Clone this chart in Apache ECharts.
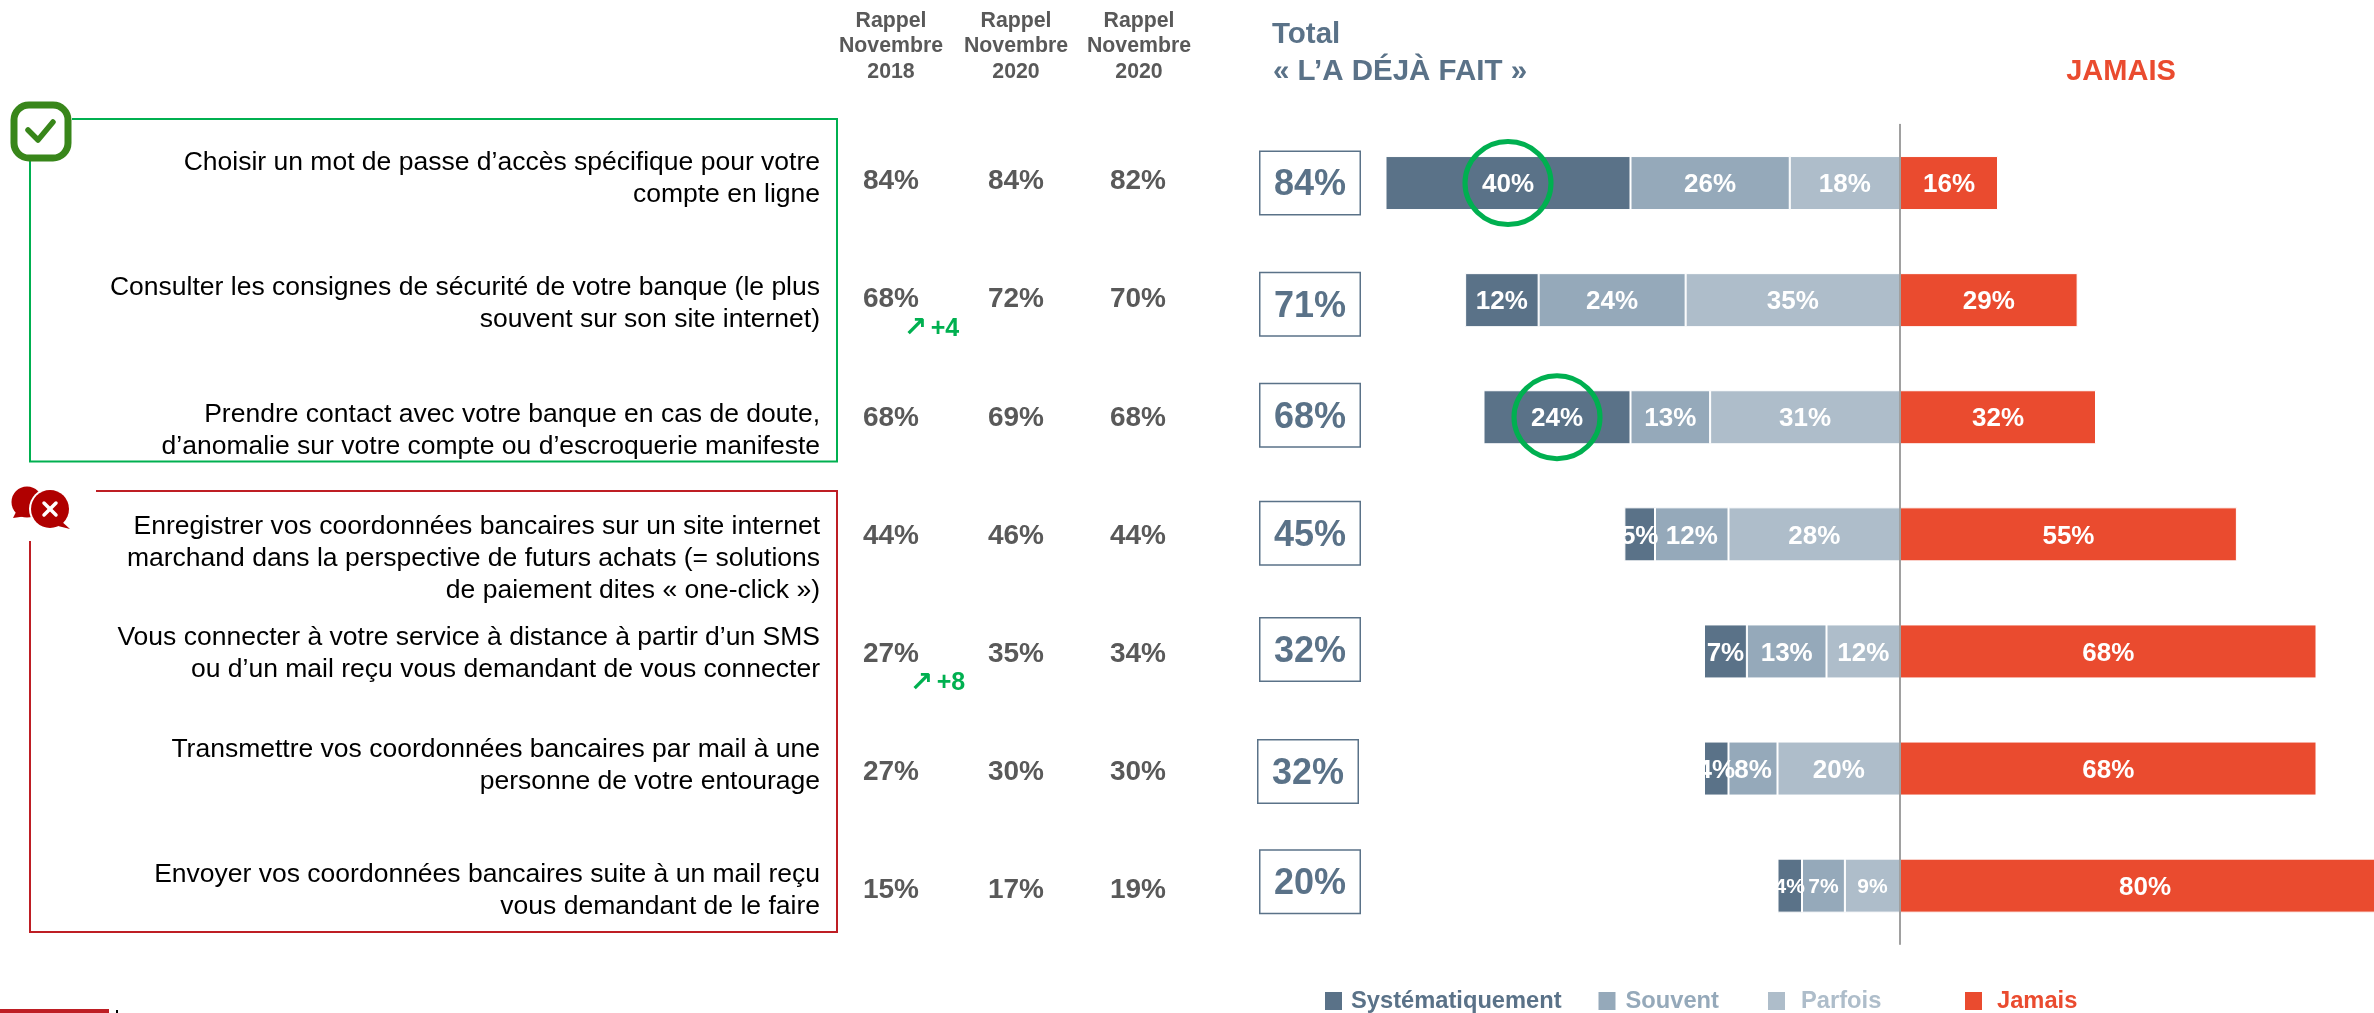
<!DOCTYPE html>
<html><head><meta charset="utf-8">
<style>html,body{margin:0;padding:0;background:#fff;overflow:hidden}#c{width:2374px;height:1013px}</style>
<script src="https://cdn.jsdelivr.net/npm/echarts@6/dist/echarts.min.js"></script>
</head><body><div id="c"></div>
<script>
const categories = [
  "Choisir un mot de passe d’accès spécifique pour votre\ncompte en ligne",
  "Consulter les consignes de sécurité de votre banque (le plus\nsouvent sur son site internet)",
  "Prendre contact avec votre banque en cas de doute,\nd’anomalie sur votre compte ou d’escroquerie manifeste",
  "Enregistrer vos coordonnées bancaires sur un site internet\nmarchand dans la perspective de futurs achats (= solutions\nde paiement dites « one-click »)",
  "Vous connecter à votre service à distance à partir d’un SMS\nou d’un mail reçu vous demandant de vous connecter",
  "Transmettre vos coordonnées bancaires par mail à une\npersonne de votre entourage",
  "Envoyer vos coordonnées bancaires suite à un mail reçu\nvous demandant de le faire"
];
const systematiquement = [40, 12, 24, 5, 7, 4, 4];
const souvent = [26, 24, 13, 12, 13, 8, 7];
const parfois = [18, 35, 31, 28, 12, 20, 9];
const jamais = [16, 29, 32, 55, 68, 68, 80];
const totals = [84, 71, 68, 45, 32, 32, 20];
const rappel2018 = [84, 68, 68, 44, 27, 27, 15];
const rappel2020a = [84, 72, 69, 46, 35, 30, 17];
const rappel2020b = [82, 70, 68, 44, 34, 30, 19];
const evolutions = {1: "+4", 4: "+8"};
const circledRows = [0, 2];

// layout
const FONT = '"Liberation Sans", Arial, sans-serif';
const C_SYS = '#5A7288', C_SOU = '#95A9BA', C_PAR = '#AEBDCA', C_JAM = '#EA4B2F';
const GREEN = '#00B050', RED = '#BE1E24', GREY = '#595959';
const AX0 = 1900, PX = 6.125, GTOP = 124.5, GH = 819.7;
const GLEFT = AX0 - 90 * PX, GWIDTH = 2374 - GLEFT;
const labelDy = [-4, 4, 13, 24, 2.5, -2.5, 5.5];
const rappelDy = [-1.5, -0.5, 1.5, 2, 3, 4, 5];
const boxDy = [0, 4, -2, -1, -2, 3, -4];
const boxDx = [0, 0, 0, 0, 0, -2, 0];
const evoPos = {1: [931.5, 29], 4: [937.5, 32]};
const idx = categories.map((_, i) => i);

function barData(arr, sign, small) {
  return arr.map((v, i) => (small && i === 6)
    ? {value: sign * v, label: {fontSize: 21}}
    : sign * v);
}
function barSeries(name, color, arr, sign, small) {
  return {
    name, type: 'bar', stack: 'all', barWidth: 54, color, clip: false,
    data: barData(arr, sign, small),
    itemStyle: {color, borderColor: '#fff', borderWidth: 1},
    label: {show: true, position: 'inside', color: '#fff', fontFamily: FONT, fontWeight: 'bold', fontSize: 26, offset: [0, 2],
      formatter: p => Math.abs(p.value) + '%'},
    z: 3
  };
}
function textCol(name, x, arr) {
  return {
    name, type: 'scatter', xAxisIndex: 1, yAxisIndex: 1, symbolSize: 0, silent: true, itemStyle: {opacity: 1},
    data: arr.map((v, i) => ({value: [x, i], label: {offset: [0, rappelDy[i]]}})),
    label: {show: true, position: 'inside', color: GREY, fontFamily: FONT, fontWeight: 'bold', fontSize: 28,
      formatter: p => arr[p.dataIndex] + '%'}
  };
}
function legendAt(name, left, color, pad) {
  return {
    show: true, data: [{name, icon: 'rect'}], left, top: 989, itemWidth: 19, itemHeight: 20, padding: 0,
    selectedMode: false,
    textStyle: {color, fontFamily: FONT, fontWeight: 'bold', fontSize: 23.7, padding: [0, 0, 0, pad]}
  };
}
function headerText(text, x, y, size, fill, align) {
  return {type: 'text', silent: true, style: {text, x, y, fontFamily: FONT, fontWeight: 'bold', fontSize: size, fill,
    align: align || 'center', verticalAlign: 'middle'}};
}
function line(points, color, w) {
  return {type: 'polyline', silent: true, shape: {points}, style: {stroke: color, lineWidth: w || 2, fill: null}};
}

const option = {
  animation: false,
  backgroundColor: '#fff',
  grid: [
    {left: GLEFT, width: GWIDTH, top: GTOP, height: GH},
    {left: 0, width: 2374, top: GTOP, height: GH}
  ],
  xAxis: [
    {type: 'value', gridIndex: 0, min: -90, max: GWIDTH / PX - 90, show: false},
    {type: 'value', gridIndex: 1, min: 0, max: 2374, show: false}
  ],
  yAxis: [
    {type: 'category', gridIndex: 0, inverse: true, data: idx, z: 10,
      axisLine: {show: true, onZero: true, lineStyle: {color: '#808080', width: 1.5}},
      axisTick: {show: false}, axisLabel: {show: false}, splitLine: {show: false}},
    {type: 'category', gridIndex: 1, inverse: true, data: idx, show: false}
  ],
  legend: [
    legendAt('Systématiquement', 1323, C_SYS, 3),
    legendAt('Souvent', 1596.5, C_SOU, 4),
    legendAt('Parfois', 1766, C_PAR, 10),
    legendAt('Jamais', 1963, C_JAM, 9)
  ],
  series: [
    barSeries('Parfois', C_PAR, parfois, -1, true),
    barSeries('Souvent', C_SOU, souvent, -1, true),
    barSeries('Systématiquement', C_SYS, systematiquement, -1, true),
    barSeries('Jamais', C_JAM, jamais, 1, false),
    {
      name: 'Mise en avant', type: 'scatter', symbol: 'circle', symbolSize: [86, 83], silent: true, z: 6,
      data: circledRows.map(r => [-(parfois[r] + souvent[r] + systematiquement[r] / 2), r]),
      itemStyle: {color: 'rgba(0,0,0,0)', borderColor: GREEN, borderWidth: 5, opacity: 1}
    },
    {
      name: 'Libellés', type: 'scatter', xAxisIndex: 1, yAxisIndex: 1, symbolSize: 0, silent: true, itemStyle: {opacity: 1},
      data: categories.map((c, i) => ({value: [820, i], label: {offset: [0, labelDy[i]]}})),
      label: {show: true, position: 'left', distance: 0, color: '#000', fontFamily: FONT, fontSize: 26.5, lineHeight: 32, align: 'right',
        formatter: p => categories[p.dataIndex]}
    },
    textCol('Rappel 2018', 891, rappel2018),
    textCol('Rappel 2020 a', 1016, rappel2020a),
    textCol('Rappel 2020 b', 1138, rappel2020b),
    {
      name: 'Cadres total', type: 'scatter', xAxisIndex: 1, yAxisIndex: 1, symbolSize: 0, silent: true, itemStyle: {opacity: 1}, z: 3,
      data: totals.map((v, i) => ({value: [1310, i], label: {offset: [boxDx[i], boxDy[i]]}})),
      label: {show: true, position: 'inside', width: 99, height: 62, align: 'center', verticalAlign: 'middle',
        backgroundColor: '#fff', borderColor: C_SYS, borderWidth: 1.5, formatter: ' '}
    },
    {
      name: 'Total', type: 'scatter', xAxisIndex: 1, yAxisIndex: 1, symbolSize: 0, silent: true, itemStyle: {opacity: 1}, z: 4,
      data: totals.map((v, i) => ({value: [1310, i], label: {offset: [boxDx[i], boxDy[i] + 2.5]}})),
      label: {show: true, position: 'inside', color: C_SYS, fontFamily: FONT, fontWeight: 'bold', fontSize: 36,
        formatter: p => totals[p.dataIndex] + '%'}
    },
    {
      name: 'Évolution', type: 'scatter', xAxisIndex: 1, yAxisIndex: 1, symbolSize: 0, silent: true, itemStyle: {opacity: 1},
      data: Object.keys(evolutions).map(k => ({value: [evoPos[k][0], +k], label: {offset: [0, evoPos[k][1]]}, txt: evolutions[k]})),
      label: {show: true, position: 'inside',
        formatter: p => '{a|↗} {b|' + p.data.txt + '}',
        rich: {a: {fontFamily: '"DejaVu Sans"', fontWeight: 'bold', fontSize: 28, color: GREEN},
               b: {fontFamily: FONT, fontWeight: 'bold', fontSize: 25, color: GREEN}}}
    }
  ],
  graphic: [
    headerText('Rappel', 891, 21, 21.3, GREY),
    headerText('Novembre', 891, 46, 21.3, GREY),
    headerText('2018', 891, 72, 21.3, GREY),
    headerText('Rappel', 1016, 21, 21.3, GREY),
    headerText('Novembre', 1016, 46, 21.3, GREY),
    headerText('2020', 1016, 72, 21.3, GREY),
    headerText('Rappel', 1139, 21, 21.3, GREY),
    headerText('Novembre', 1139, 46, 21.3, GREY),
    headerText('2020', 1139, 72, 21.3, GREY),
    headerText('Total', 1272, 35, 29.5, C_SYS, 'left'),
    headerText('« L’A DÉJÀ FAIT »', 1273, 72, 29.5, C_SYS, 'left'),
    headerText('JAMAIS', 2121, 72, 29, C_JAM),
    line([[72, 119], [837, 119], [837, 461.5], [30, 461.5], [30, 160]], GREEN),
    line([[96, 491], [837, 491], [837, 932], [30, 932], [30, 541]], RED),
    // icône validée
    {type: 'rect', silent: true, shape: {x: 14, y: 105, width: 54, height: 53, r: 15},
      style: {fill: '#fff', stroke: '#38861A', lineWidth: 7}},
    {type: 'polyline', silent: true, shape: {points: [[28, 130], [38, 140], [53, 122]]},
      style: {stroke: '#38861A', lineWidth: 5.5, lineCap: 'round', lineJoin: 'round', fill: null}},
    // icône refusée
    {type: 'circle', silent: true, shape: {cx: 27, cy: 502, r: 15.5}, style: {fill: '#B00000'}},
    {type: 'polygon', silent: true, shape: {points: [[17, 510], [13, 518], [27, 516]]}, style: {fill: '#B00000'}},
    {type: 'circle', silent: true, shape: {cx: 50, cy: 509, r: 21}, style: {fill: '#fff'}},
    {type: 'circle', silent: true, shape: {cx: 50, cy: 509, r: 19}, style: {fill: '#B00000'}},
    {type: 'polygon', silent: true, shape: {points: [[60, 520], [70, 529], [58, 526]]}, style: {fill: '#B00000'}},
    {type: 'line', silent: true, shape: {x1: 44, y1: 503, x2: 56, y2: 515}, style: {stroke: '#fff', lineWidth: 3.5, lineCap: 'round'}},
    {type: 'line', silent: true, shape: {x1: 56, y1: 503, x2: 44, y2: 515}, style: {stroke: '#fff', lineWidth: 3.5, lineCap: 'round'}},
    // pied de page coupé
    {type: 'rect', silent: true, shape: {x: 0, y: 1009, width: 109, height: 4}, style: {fill: RED}},
    {type: 'rect', silent: true, shape: {x: 116, y: 1010, width: 2, height: 3}, style: {fill: '#000'}}
  ]
};
const chart = echarts.init(document.getElementById('c'), null, {renderer: 'canvas', width: 2374, height: 1013});
chart.setOption(option);
</script></body></html>
